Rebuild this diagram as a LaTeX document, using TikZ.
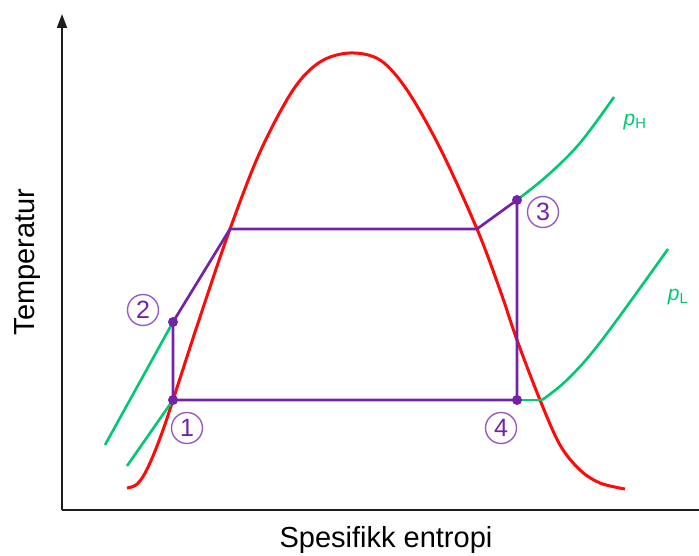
\documentclass[tikz,border=0pt]{standalone}
\usepackage{fontspec}
\setmainfont{Liberation Sans}
\usetikzlibrary{arrows.meta}
\definecolor{dome}{RGB}{255,10,10}
\definecolor{isobar}{RGB}{0,200,115}
\definecolor{cyc}{RGB}{115,35,165}
\definecolor{ring}{RGB}{150,90,195}
\tikzset{
  axis/.style={line width=2pt,draw={rgb,255:red,30;green,30;blue,30}},
  domeline/.style={line width=3pt,draw=dome},
  isoline/.style={line width=2.6pt,draw=isobar},
  cycline/.style={line width=2.7pt,draw=cyc},
  dot/.style={circle,fill=cyc,inner sep=0pt,minimum size=10pt},
  num/.style={circle,draw=ring,line width=1.4pt,text=cyc,minimum size=31pt,inner sep=0pt,font=\fontsize{25}{25}\selectfont},
  plab/.style={text=isobar,inner sep=0pt,font=\fontsize{21}{21}\selectfont\itshape},
  axlab/.style={inner sep=0pt,font=\fontsize{29}{32}\selectfont}
}
\begin{document}
\begin{tikzpicture}[x=1pt,y=-1pt]
\useasboundingbox (0,0) rectangle (699,556);
% axes
\coordinate (o) at (62,510);
\coordinate (ytop) at (62,14);
\coordinate (xend) at (699,510);
\draw[axis,-{Triangle[length=14pt,width=10pt]}] (o) -- (ytop);
\draw[axis] (o) -- (xend);
\node[axlab,rotate=90] (tlab) at (28,262) {Temperatur};
\node[axlab] (slab) at (386,540) {Spesifikk entropi};
% dome
\draw[domeline] plot[smooth,tension=0.55] coordinates {(127,488) (136,485) (144,475) (153,456) (163,430) (173,400) (200,317) (230,229) (260,152) (293,90) (320,62) (350,53) (380,60) (407,90) (440,148) (477,229) (500,290) (517,340) (540,400) (560,445) (580,470) (600,483) (625,489)};
% cycle points
\coordinate (p1) at (173,400);
\coordinate (p2) at (173,322);
\coordinate (p3) at (517,200);
\coordinate (p4) at (517,400);
\coordinate (a) at (230,229);
\coordinate (b) at (477,229);
\coordinate (c) at (542,400);
% isobars
\coordinate (hA) at (105,445);
\coordinate (lA) at (127,466);
\draw[isoline] (hA) -- (p2);
\draw[isoline] (lA) -- (p1);
\draw[isoline] plot[smooth,tension=0.6] coordinates {(517,200) (548,175) (580,143) (614,97)};
\draw[isoline] (p4) -- (c);
\draw[isoline] plot[smooth,tension=0.6] coordinates {(542,400) (568,379) (602,340) (668,249)};
% cycle
\draw[cycline,line join=round] (p1) -- (p2) -- (a) -- (b) -- (p3) -- (p4) -- cycle;
\node[dot] (d1) at (p1) {};
\node[dot] (d2) at (p2) {};
\node[dot] (d3) at (p3) {};
\node[dot] (d4) at (p4) {};
% labels
\node[num] (n1) at (187,428) {1};
\node[num] (n2) at (143,310) {2};
\node[num] (n3) at (543,212) {3};
\node[num] (n4) at (501,428) {4};
\node[plab] (ph) at (635,122) {p\textsubscript{\upshape H}};
\node[plab] (pl) at (678,297) {p\textsubscript{\upshape L}};
\end{tikzpicture}
\end{document}
